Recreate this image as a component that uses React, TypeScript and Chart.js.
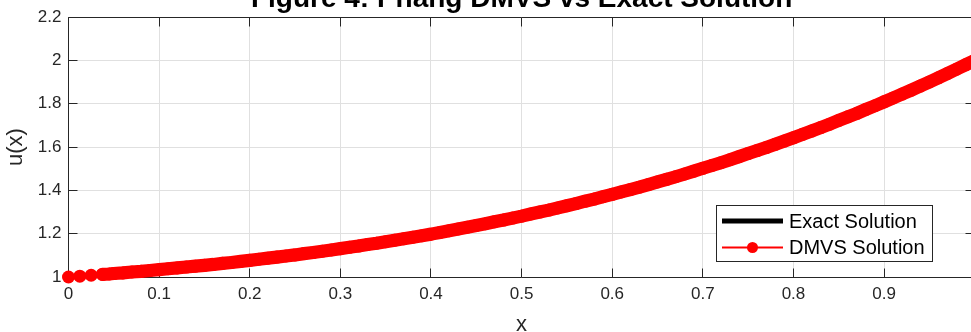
import React, { useEffect, useRef } from "react";
import { Chart, registerables } from "chart.js";

Chart.register(...registerables);

const TITLE = "Figure 4: Phang DMVS vs Exact Solution";
const X_LABEL = "x";
const Y_LABEL = "u(x)";
const SERIES_NAMES = ["Exact Solution", "DMVS Solution"];

const X_TICKS = [0, 0.1, 0.2, 0.3, 0.4, 0.5, 0.6, 0.7, 0.8, 0.9, 1];
const X_TICK_LABELS = ["0", "0.1", "0.2", "0.3", "0.4", "0.5", "0.6", "0.7", "0.8", "0.9", ""];
const Y_TICKS = [1, 1.2, 1.4, 1.6, 1.8, 2, 2.2];
const Y_TICK_LABELS = ["1", "1.2", "1.4", "1.6", "1.8", "2", "2.2"];

const X_EXACT = [
  0, 0.01, 0.02, 0.03, 0.04, 0.05, 0.06, 0.07, 0.08, 0.09,
  0.1, 0.11, 0.12, 0.13, 0.14, 0.15, 0.16, 0.17, 0.18, 0.19,
  0.2, 0.21, 0.22, 0.23, 0.24, 0.25, 0.26, 0.27, 0.28, 0.29,
  0.3, 0.31, 0.32, 0.33, 0.34, 0.35, 0.36, 0.37, 0.38, 0.39,
  0.4, 0.41, 0.42, 0.43, 0.44, 0.45, 0.46, 0.47, 0.48, 0.49,
  0.5, 0.51, 0.52, 0.53, 0.54, 0.55, 0.56, 0.57, 0.58, 0.59,
  0.6, 0.61, 0.62, 0.63, 0.64, 0.65, 0.66, 0.67, 0.68, 0.69,
  0.7, 0.71, 0.72, 0.73, 0.74, 0.75, 0.76, 0.77, 0.78, 0.79,
  0.8, 0.81, 0.82, 0.83, 0.84, 0.85, 0.86, 0.87, 0.88, 0.89,
  0.9, 0.91, 0.92, 0.93, 0.94, 0.95, 0.96, 0.97, 0.98, 0.99, 1.0,
];
const U_EXACT = [
  1.000, 1.003, 1.006, 1.009, 1.013, 1.016, 1.019, 1.023, 1.026, 1.030,
  1.034, 1.038, 1.042, 1.046, 1.050, 1.054, 1.058, 1.063, 1.067, 1.072,
  1.077, 1.082, 1.087, 1.092, 1.097, 1.102, 1.108, 1.113, 1.119, 1.125,
  1.131, 1.137, 1.143, 1.150, 1.156, 1.163, 1.170, 1.177, 1.184, 1.191,
  1.198, 1.206, 1.214, 1.222, 1.230, 1.238, 1.246, 1.255, 1.263, 1.272,
  1.281, 1.291, 1.300, 1.309, 1.319, 1.329, 1.339, 1.350, 1.360, 1.371,
  1.382, 1.393, 1.404, 1.415, 1.427, 1.439, 1.451, 1.463, 1.476, 1.489,
  1.502, 1.515, 1.528, 1.542, 1.556, 1.570, 1.584, 1.598, 1.613, 1.628,
  1.643, 1.659, 1.674, 1.690, 1.706, 1.723, 1.740, 1.756, 1.774, 1.791,
  1.809, 1.827, 1.845, 1.863, 1.882, 1.901, 1.920, 1.940, 1.960, 1.980, 2.000,
];

const X_DMVS = [
  0, 0.0125, 0.025, 0.0375, 0.045, 0.05, 0.06, 0.07, 0.08, 0.09,
  0.1, 0.11, 0.12, 0.13, 0.14, 0.15, 0.16, 0.17, 0.18, 0.19,
  0.2, 0.21, 0.22, 0.23, 0.24, 0.25, 0.26, 0.27, 0.28, 0.29,
  0.3, 0.31, 0.32, 0.33, 0.34, 0.35, 0.36, 0.37, 0.38, 0.39,
  0.4, 0.41, 0.42, 0.43, 0.44, 0.45, 0.46, 0.47, 0.48, 0.49,
  0.5, 0.51, 0.52, 0.53, 0.54, 0.55, 0.56, 0.57, 0.58, 0.59,
  0.6, 0.61, 0.62, 0.63, 0.64, 0.65, 0.66, 0.67, 0.68, 0.69,
  0.7, 0.71, 0.72, 0.73, 0.74, 0.75, 0.76, 0.77, 0.78, 0.79,
  0.8, 0.81, 0.82, 0.83, 0.84, 0.85, 0.86, 0.87, 0.88, 0.89,
  0.9, 0.91, 0.92, 0.93, 0.94, 0.95, 0.96, 0.97, 0.98, 0.99, 1.0,
];
const U_DMVS = [
  1.000, 1.004, 1.008, 1.012, 1.014, 1.016, 1.019, 1.023, 1.026, 1.030,
  1.034, 1.038, 1.042, 1.046, 1.050, 1.054, 1.058, 1.063, 1.067, 1.072,
  1.077, 1.082, 1.087, 1.092, 1.097, 1.102, 1.108, 1.113, 1.119, 1.125,
  1.131, 1.137, 1.143, 1.150, 1.156, 1.163, 1.170, 1.177, 1.184, 1.191,
  1.198, 1.206, 1.214, 1.222, 1.230, 1.238, 1.246, 1.255, 1.263, 1.272,
  1.281, 1.291, 1.300, 1.309, 1.319, 1.329, 1.339, 1.350, 1.360, 1.371,
  1.382, 1.393, 1.404, 1.415, 1.427, 1.439, 1.451, 1.463, 1.476, 1.489,
  1.502, 1.515, 1.528, 1.542, 1.556, 1.570, 1.584, 1.598, 1.613, 1.628,
  1.643, 1.659, 1.674, 1.690, 1.706, 1.723, 1.740, 1.756, 1.774, 1.791,
  1.809, 1.827, 1.845, 1.863, 1.882, 1.901, 1.920, 1.940, 1.960, 1.980, 2.000,
];

const FONT = "'Liberation Sans', Arial, Helvetica, sans-serif";
const AXIS_COLOR = "#262626";
const GRID_COLOR = "#e0e0e0";
const RED = "#ff0000";
const CANVAS_W = 984;
const CANVAS_H = 332;
const PLOT_RIGHT = 974.7;
const TICK_LEN = 9;

const framePlugin = {
  id: "matlabFrame",
  beforeDatasetsDraw(chart: any) {
    const { ctx, chartArea, scales } = chart;
    const L = Math.floor(chartArea.left) + 0.5;
    const R = Math.floor(chartArea.right) + 0.5;
    const T = Math.floor(chartArea.top) + 0.5;
    const B = Math.floor(chartArea.bottom) + 0.5;
    ctx.save();
    ctx.strokeStyle = AXIS_COLOR;
    ctx.lineWidth = 1;
    ctx.beginPath();
    ctx.rect(L, T, R - L, B - T);
    X_TICKS.forEach((v) => {
      const px = Math.floor(scales.x.getPixelForValue(v)) + 0.5;
      ctx.moveTo(px, B);
      ctx.lineTo(px, B - TICK_LEN);
      ctx.moveTo(px, T);
      ctx.lineTo(px, T + TICK_LEN);
    });
    Y_TICKS.forEach((v) => {
      const py = Math.floor(scales.y.getPixelForValue(v)) + 0.5;
      ctx.moveTo(L, py);
      ctx.lineTo(L + TICK_LEN, py);
      ctx.moveTo(R, py);
      ctx.lineTo(R - TICK_LEN, py);
    });
    ctx.stroke();
    ctx.restore();
  },
  afterDraw(chart: any) {
    const { ctx, chartArea } = chart;
    const cx = (chartArea.left + chartArea.right) / 2;
    const cy = (chartArea.top + chartArea.bottom) / 2;
    ctx.save();
    // title
    ctx.fillStyle = "#000000";
    ctx.font = `bold 28px ${FONT}`;
    ctx.textAlign = "center";
    ctx.textBaseline = "alphabetic";
    ctx.fillText(TITLE, cx, 7);
    // x label
    ctx.fillStyle = AXIS_COLOR;
    ctx.font = `22px ${FONT}`;
    ctx.fillText(X_LABEL, cx, 331);
    // y label
    ctx.save();
    ctx.translate(16, cy);
    ctx.rotate(-Math.PI / 2);
    ctx.textBaseline = "middle";
    ctx.fillText(Y_LABEL, 0, 0);
    ctx.restore();
    // legend
    const bx = 716.5, by = 205.5, bw = 216, bh = 56;
    ctx.fillStyle = "#ffffff";
    ctx.fillRect(bx, by, bw, bh);
    ctx.strokeStyle = AXIS_COLOR;
    ctx.lineWidth = 1;
    ctx.strokeRect(bx, by, bw, bh);
    const r1 = 221, r2 = 247.5;
    ctx.lineCap = "butt";
    ctx.strokeStyle = "#000000";
    ctx.lineWidth = 5;
    ctx.beginPath();
    ctx.moveTo(722, r1);
    ctx.lineTo(783, r1);
    ctx.stroke();
    ctx.strokeStyle = RED;
    ctx.lineWidth = 2;
    ctx.beginPath();
    ctx.moveTo(722, r2);
    ctx.lineTo(783, r2);
    ctx.stroke();
    ctx.fillStyle = RED;
    ctx.beginPath();
    ctx.arc(752.5, r2, 5.5, 0, Math.PI * 2);
    ctx.fill();
    ctx.fillStyle = "#000000";
    ctx.font = `20px ${FONT}`;
    ctx.textAlign = "left";
    ctx.textBaseline = "middle";
    ctx.fillText(SERIES_NAMES[0], 789, r1 + 1);
    ctx.fillText(SERIES_NAMES[1], 789, r2 + 1);
    ctx.restore();
  },
};

export default function App() {
  const ref = useRef<HTMLCanvasElement | null>(null);

  useEffect(() => {
    const canvas = ref.current;
    if (!canvas) return;
    const chart = new Chart(canvas, {
      type: "line",
      data: {
        datasets: [
          {
            label: SERIES_NAMES[0],
            data: X_EXACT.map((x, i) => ({ x, y: U_EXACT[i] })),
            borderColor: "#000000",
            borderWidth: 4,
            pointRadius: 0,
            clip: false as any,
            order: 2,
          },
          {
            label: SERIES_NAMES[1],
            data: X_DMVS.map((x, i) => ({ x, y: U_DMVS[i] })),
            borderColor: RED,
            backgroundColor: RED,
            borderWidth: 2,
            borderJoinStyle: "round",
            borderCapStyle: "round",
            pointRadius: 6.5,
            pointBorderWidth: 0,
            pointBackgroundColor: RED,
            pointBorderColor: RED,
            clip: false as any,
            order: 1,
            segment: {
              borderWidth: (c: any) => (c.p0DataIndex >= 3 ? 13.2 : 2),
            },
          } as any,
        ],
      },
      options: {
        animation: false,
        responsive: false,
        events: [],
        layout: {
          padding: { left: 0, top: 15, right: CANVAS_W - PLOT_RIGHT, bottom: 0 },
        },
        plugins: {
          legend: { display: false },
          tooltip: { enabled: false },
          title: { display: false },
        },
        scales: {
          x: {
            type: "linear",
            min: 0,
            max: 1,
            afterBuildTicks: (s: any) => {
              s.ticks = X_TICKS.map((v) => ({ value: v }));
            },
            afterFit: (s: any) => {
              s.height = CANVAS_H - 277;
            },
            ticks: {
              autoSkip: false,
              maxRotation: 0,
              padding: 7,
              color: AXIS_COLOR,
              font: { family: FONT, size: 17 },
              callback: (_v: any, i: number) => X_TICK_LABELS[i],
            },
            grid: { color: GRID_COLOR, drawTicks: false, lineWidth: 1 },
            border: { display: false },
          },
          y: {
            type: "linear",
            min: 1,
            max: 2.2,
            afterBuildTicks: (s: any) => {
              s.ticks = Y_TICKS.map((v) => ({ value: v }));
            },
            afterFit: (s: any) => {
              s.width = 68.5;
            },
            ticks: {
              autoSkip: false,
              padding: 7,
              color: AXIS_COLOR,
              font: { family: FONT, size: 17 },
              callback: (_v: any, i: number) => Y_TICK_LABELS[i],
            },
            grid: { color: GRID_COLOR, drawTicks: false, lineWidth: 1 },
            border: { display: false },
          },
        },
      } as any,
      plugins: [framePlugin],
    });
    return () => chart.destroy();
  }, []);

  return (
    <div
      style={{
        position: "fixed",
        left: 0,
        top: 0,
        width: 971,
        height: 332,
        overflow: "hidden",
        background: "#ffffff",
      }}
    >
      <canvas
        ref={ref}
        width={CANVAS_W}
        height={CANVAS_H}
        style={{ display: "block", width: CANVAS_W, height: CANVAS_H }}
      />
    </div>
  );
}
